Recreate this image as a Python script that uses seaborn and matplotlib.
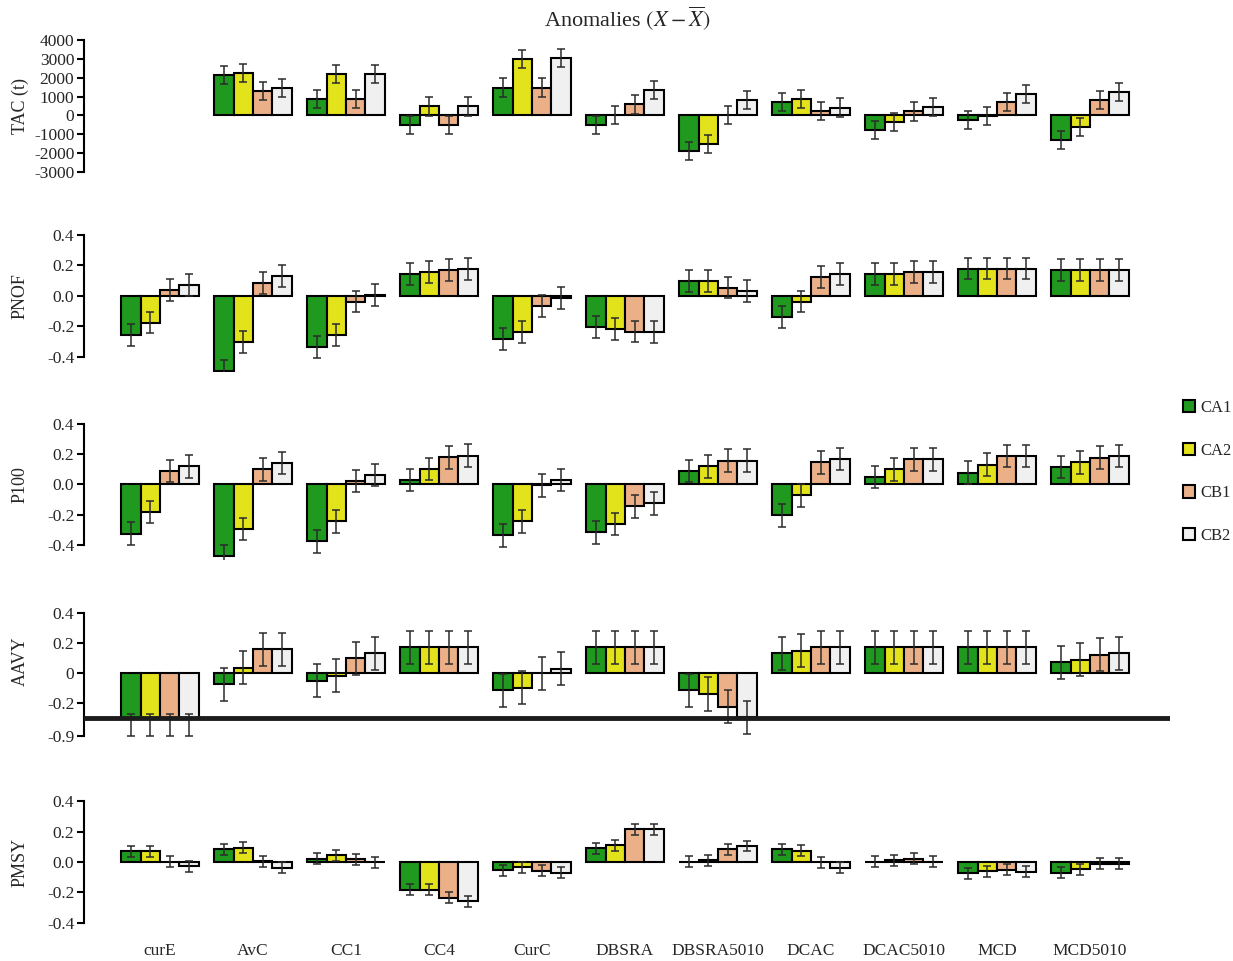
import numpy as np
import pandas as pd
import matplotlib
matplotlib.use("Agg")
import matplotlib.pyplot as plt
import matplotlib.transforms as mtransforms
from matplotlib.patches import Patch, Rectangle
from matplotlib.ticker import FormatStrFormatter, FixedLocator, FixedFormatter
import seaborn as sns

# ---------------------------------------------------------------- data
methods = ["curE", "AvC", "CC1", "CC4", "CurC", "DBSRA", "DBSRA5010",
           "DCAC", "DCAC5010", "MCD", "MCD5010"]
scenarios = ["CA1", "CA2", "CB1", "CB2"]
scenario_colors = ["#1f9a1f", "#e3e31c", "#ebb088", "#f0f0f0"]

nan = np.nan
# anomalies per method (rows) and scenario (columns CA1, CA2, CB1, CB2)
tac = [
    [nan, nan, nan, nan],
    [2150, 2240, 1300, 1450],
    [860, 2200, 860, 2200],
    [-530, 475, -530, 475],
    [1480, 3000, 1480, 3030],
    [-500, 20, 580, 1350],
    [-1900, -1500, 30, 830],
    [700, 860, 250, 420],
    [-790, -350, 210, 440],
    [-230, -30, 700, 1130],
    [-1290, -600, 830, 1220],
]
pnof = [
    [-0.256, -0.175, 0.037, 0.072],
    [-0.496, -0.300, 0.087, 0.133],
    [-0.337, -0.258, -0.037, 0.005],
    [0.142, 0.155, 0.170, 0.175],
    [-0.286, -0.236, -0.066, -0.015],
    [-0.205, -0.219, -0.234, -0.238],
    [0.096, 0.096, 0.055, 0.035],
    [-0.138, -0.037, 0.125, 0.146],
    [0.142, 0.142, 0.155, 0.155],
    [0.180, 0.180, 0.180, 0.180],
    [0.173, 0.173, 0.173, 0.173],
]
p100 = [
    [-0.325, -0.182, 0.090, 0.120],
    [-0.475, -0.295, 0.100, 0.143],
    [-0.376, -0.244, 0.022, 0.062],
    [0.029, 0.103, 0.180, 0.190],
    [-0.336, -0.244, -0.005, 0.029],
    [-0.316, -0.262, -0.145, -0.125],
    [0.090, 0.119, 0.158, 0.158],
    [-0.204, -0.073, 0.147, 0.169],
    [0.050, 0.100, 0.167, 0.167],
    [0.079, 0.130, 0.189, 0.189],
    [0.116, 0.147, 0.178, 0.189],
]
aavy = [
    [-0.344, -0.344, -0.344, -0.344],
    [-0.073, 0.038, 0.160, 0.160],
    [-0.051, -0.016, 0.100, 0.133],
    [0.173, 0.173, 0.173, 0.173],
    [-0.113, -0.096, 0.000, 0.031],
    [0.173, 0.173, 0.173, 0.173],
    [-0.113, -0.138, -0.222, -0.293],
    [0.133, 0.149, 0.173, 0.173],
    [0.173, 0.173, 0.173, 0.173],
    [0.173, 0.173, 0.173, 0.173],
    [0.073, 0.091, 0.122, 0.133],
]
pmsy = [
    [0.072, 0.072, 0.002, -0.028],
    [0.083, 0.094, 0.005, -0.037],
    [0.022, 0.044, 0.017, -0.002],
    [-0.183, -0.183, -0.234, -0.258],
    [-0.055, -0.035, -0.057, -0.070],
    [0.090, 0.109, 0.214, 0.214],
    [0.003, 0.011, 0.083, 0.105],
    [0.083, 0.074, -0.003, -0.037],
    [0.002, 0.013, 0.022, 0.002],
    [-0.074, -0.061, -0.052, -0.065],
    [-0.070, -0.048, -0.010, -0.010],
]
# half-width of the uncertainty bars, per method
tac_err = [480] * 11
pnof_err = [0.072] * 11
p100_err = [0.075] * 11
aavy_err = [0.073] + [0.11] * 10
pmsy_err = [0.036] * 11

panel_labels = ["TAC (t)", "PNOF", "P100", "AAVY", "PMSY"]
tac_ticks = [-3000, -2000, -1000, 0, 1000, 2000, 3000, 4000]
frac_ticks = [-0.4, -0.2, 0.0, 0.2, 0.4]
aavy_ticks = [-0.42, -0.2, 0.0, 0.2, 0.4]
aavy_ticklabels = ["-0.9", "-0.2", "0", "0.2", "0.4"]
aavy_break = -0.30

# ---------------------------------------------------------------- style
sns.set_style("white")
plt.rcParams["font.family"] = ["Liberation Serif", "DejaVu Serif"]
plt.rcParams["mathtext.fontset"] = "stix"
plt.rcParams["axes.unicode_minus"] = False

W, H = 1233, 961
fig = plt.figure(figsize=(W / 100, H / 100), dpi=100)

x_left, x_right = 84, 1170
spacing = 93.0
first_center = 160.0
xlim = ((x_left - first_center) / spacing, (x_right - first_center) / spacing)
bar_width = 0.83


def make_axes(top_px, bottom_px):
    return fig.add_axes([x_left / W, 1 - bottom_px / H,
                         (x_right - x_left) / W, (bottom_px - top_px) / H])


# panel: values, errors, ylim, ticks, tick format, spine bounds, pixel rows, label centre
panels = [
    dict(vals=tac, err=tac_err, ylim=(-3000, 4000), ticks=tac_ticks, fmt="%d",
         bounds=(-3000, 4000), px=(40, 172), lab_y=500),
    dict(vals=pnof, err=pnof_err, ylim=(-0.50, 0.42), ticks=frac_ticks, fmt="%.1f",
         bounds=(-0.4, 0.4), px=(232, 372), lab_y=0.0),
    dict(vals=p100, err=p100_err, ylim=(-0.50, 0.42), ticks=frac_ticks, fmt="%.1f",
         bounds=(-0.4, 0.4), px=(421, 560), lab_y=0.0),
    dict(vals=aavy, err=aavy_err, ylim=(-0.45, 0.42), ticks=aavy_ticks, fmt=None,
         bounds=(-0.42, 0.4), px=(610, 741), lab_y=0.08),
    dict(vals=pmsy, err=pmsy_err, ylim=(-0.42, 0.42), ticks=frac_ticks, fmt="%.1f",
         bounds=(-0.4, 0.4), px=(798, 926), lab_y=0.0),
]

offsets = (np.arange(len(scenarios)) - (len(scenarios) - 1) / 2) * bar_width / len(scenarios)

for k, p in enumerate(panels):
    ax = make_axes(*p["px"])
    vals = np.array(p["vals"], dtype=float)
    df = pd.DataFrame({
        "method": np.repeat(methods, len(scenarios)),
        "scenario": np.tile(scenarios, len(methods)),
        "value": vals.ravel(),
    }).dropna()

    sns.barplot(data=df, x="method", y="value", hue="scenario",
                order=methods, hue_order=scenarios, palette=scenario_colors,
                saturation=1, width=bar_width, errorbar=None,
                edgecolor="black", linewidth=1.5, legend=False, ax=ax)

    # uncertainty bars
    for j in range(len(scenarios)):
        col = vals[:, j]
        ok = ~np.isnan(col)
        xs = np.arange(len(methods))[ok] + offsets[j]
        ax.errorbar(xs, col[ok], yerr=np.array(p["err"])[ok], fmt="none",
                    ecolor="#2b2b2b", elinewidth=1.1, capsize=3, capthick=1.1,
                    zorder=4)

    ax.set_xlim(*xlim)
    ax.set_ylim(*p["ylim"])
    ax.set_xlabel("")
    ax.set_ylabel(panel_labels[k], fontsize=13)
    ax.yaxis.set_label_coords(
        -0.051, p["lab_y"],
        transform=mtransforms.blended_transform_factory(ax.transAxes, ax.transData))

    sns.despine(ax=ax, top=True, right=True, bottom=True)
    ax.spines["left"].set_linewidth(1.5)
    ax.spines["left"].set_color("black")
    ax.spines["left"].set_bounds(*p["bounds"])

    ax.yaxis.set_major_locator(FixedLocator(p["ticks"]))
    if p["fmt"] is None:
        ax.yaxis.set_major_formatter(FixedFormatter(aavy_ticklabels))
    else:
        ax.yaxis.set_major_formatter(FormatStrFormatter(p["fmt"]))
    ax.tick_params(axis="y", direction="out", length=5, width=1.5,
                   color="black", labelsize=12.5, pad=2, left=True)

    if k == len(panels) - 1:
        ax.set_xticks(range(len(methods)))
        ax.set_xticklabels(methods, fontsize=12.5)
        ax.tick_params(axis="x", length=0, pad=12)
    else:
        ax.set_xticks([])

    if panel_labels[k] == "AAVY":
        # broken axis: bars stop at the break line
        clip = Rectangle((xlim[0] - 1, aavy_break), xlim[1] - xlim[0] + 2, 2,
                         transform=ax.transData, facecolor="none")
        for patch in ax.patches:
            patch.set_clip_path(clip)
        ax.axhline(aavy_break, color="#1c1c1c", lw=3.5, zorder=5)

fig.text(627 / W, 1 - 19 / H, r"Anomalies $\left(X-\overline{X}\right)$",
         ha="center", va="center", fontsize=16)

handles = [Patch(facecolor=c, edgecolor="black", linewidth=1.5) for c in scenario_colors]
fig.legend(handles, scenarios, loc="center left",
           bbox_to_anchor=(1176 / W, 1 - 472 / H), frameon=False,
           fontsize=12, labelspacing=1.6, handlelength=0.75, handleheight=0.75,
           handletextpad=0.3, borderaxespad=0)

fig.savefig("out.png", dpi=100)
